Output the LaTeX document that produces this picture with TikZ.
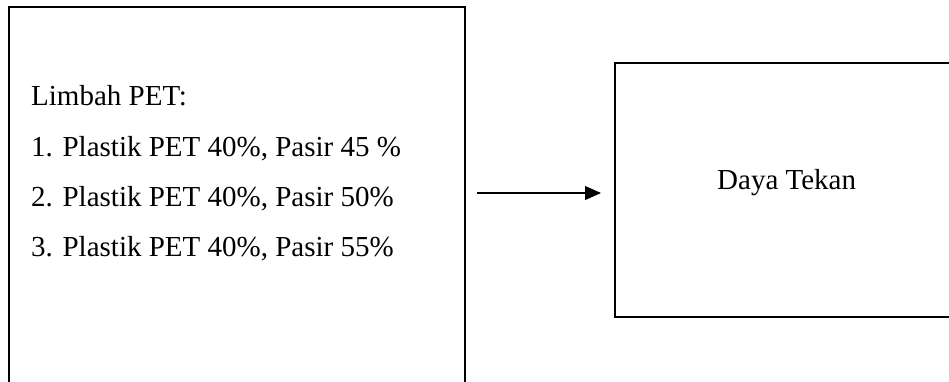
\documentclass[tikz,border=0pt]{standalone}
\usepackage{fontspec}
\setmainfont{Liberation Serif}
\usetikzlibrary{arrows.meta}
\begin{document}
\begin{tikzpicture}[x=1pt,y=-1pt,
  boxframe/.style={draw=black, line width=2.3pt, inner sep=0pt, outer sep=0pt, anchor=north west},
  txt/.style={anchor=base west, inner sep=0pt, font=\fontsize{29}{34}\selectfont},
  conn/.style={line width=1.1pt, -{Triangle[length=16pt,width=14pt]}}]
\useasboundingbox (0,0) rectangle (949,381);
\clip (0,0) rectangle (949,381);
\node[boxframe, minimum width=456pt, minimum height=420pt] (left) at (9,7) {};
\node[boxframe, minimum width=400pt, minimum height=254pt] (right) at (615,63) {};
\node[txt] (t0) at (31,105) {Limbah PET:};
\node[txt] (t1) at (31,156) {1. Plastik PET 40\%, Pasir 45 \%};
\node[txt] (t2) at (31,206) {2. Plastik PET 40\%, Pasir 50\%};
\node[txt] (t3) at (31,256) {3. Plastik PET 40\%, Pasir 55\%};
\node[txt] (dt) at (717,189) {Daya Tekan};
\coordinate (a1) at (477,193);
\coordinate (a2) at (601,193);
\draw[conn] (a1) -- (a2);
\end{tikzpicture}
\end{document}
